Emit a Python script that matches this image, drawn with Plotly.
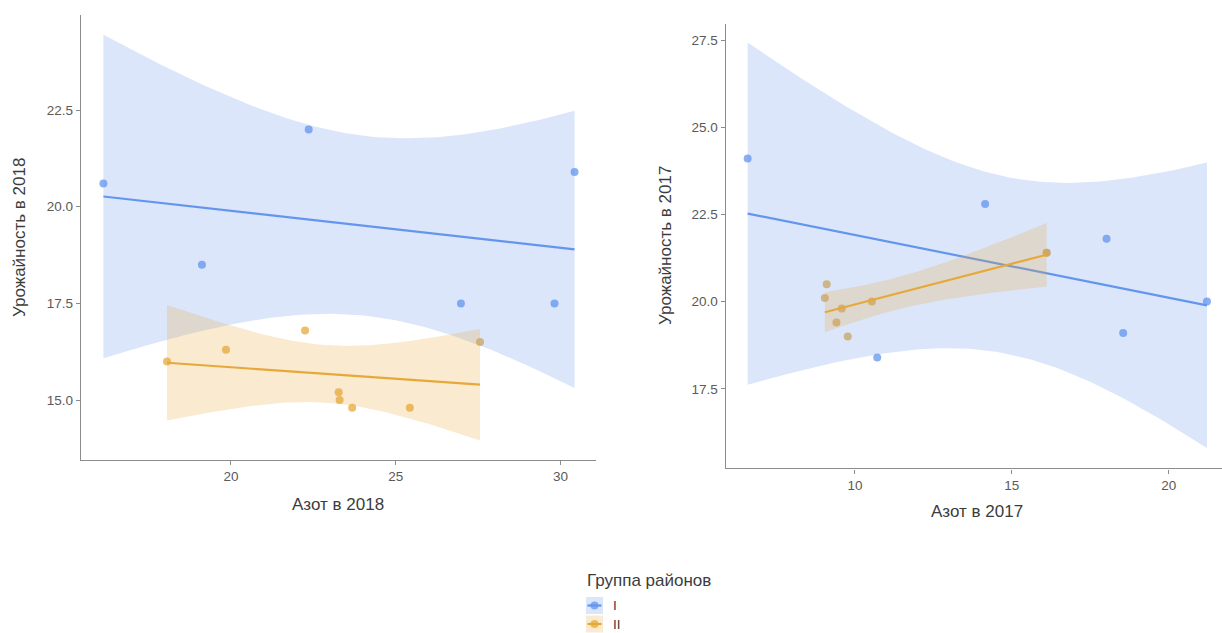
import numpy as np
import plotly.graph_objects as go

W, H = 1222, 633

# Азот и урожайность по группам районов, 2018
n18_I = [16.13, 19.12, 22.36, 26.98, 29.82, 30.43]
y18_I = [20.6, 18.5, 22.0, 17.5, 17.5, 20.9]
n18_II = [18.06, 19.85, 22.25, 23.27, 23.30, 23.68, 25.43, 27.56]
y18_II = [16.0, 16.3, 16.8, 15.2, 15.0, 14.8, 14.8, 16.5]

# то же, 2017 (в группе II два района с одинаковыми значениями)
n17_I = [6.58, 10.71, 14.15, 18.02, 18.55, 21.22]
y17_I = [24.1, 18.4, 22.8, 21.8, 19.1, 20.0]
n17_II = [9.04, 9.10, 9.41, 9.58, 9.77, 10.54, 16.11, 16.11]
y17_II = [20.1, 20.5, 19.4, 19.8, 19.0, 20.0, 21.4, 21.4]

groups = ["I", "II"]
legend_title = "Группа районов"

# tick labels
x18_ticks = [20, 25, 30]
y18_ticks = [15.0, 17.5, 20.0, 22.5]
x17_ticks = [10, 15, 20]
y17_ticks = [17.5, 20.0, 22.5, 25.0, 27.5]

LINE = {"I": "rgb(100,149,237)", "II": "rgb(231,168,58)"}
POINT = {"I": "rgba(100,149,237,0.75)", "II": "rgba(231,168,58,0.75)"}
BAND = {"I": "rgba(100,149,237,0.23)", "II": "rgba(231,168,58,0.24)"}

# 97.5% Student t quantiles by residual degrees of freedom
T975 = {4: 2.776445, 5: 2.570582, 6: 2.446912}


def lm_fit(x, y, n_grid=80):
    """OLS line with a 95% confidence band, evaluated on a grid over the x range."""
    x = np.asarray(x, float)
    y = np.asarray(y, float)
    n = len(x)
    mx, my = x.mean(), y.mean()
    sxx = ((x - mx) ** 2).sum()
    b1 = ((x - mx) * (y - my)).sum() / sxx
    b0 = my - b1 * mx
    s = np.sqrt(((y - (b0 + b1 * x)) ** 2).sum() / (n - 2))
    g = np.linspace(x.min(), x.max(), n_grid)
    fit = b0 + b1 * g
    half = T975[n - 2] * s * np.sqrt(1.0 / n + (g - mx) ** 2 / sxx)
    return g, fit, fit - half, fit + half


def px(xp):
    return xp / W


def py(yp):
    return 1 - yp / H


fig = go.Figure()

panels = [
    ("x", "y", {"I": (n18_I, y18_I), "II": (n18_II, y18_II)}),
    ("x2", "y2", {"I": (n17_I, y17_I), "II": (n17_II, y17_II)}),
]

for xa, ya, data in panels:
    # points first, smoothers drawn on top
    for grp in groups:
        xs, ys = data[grp]
        fig.add_trace(go.Scatter(
            x=xs, y=ys, xaxis=xa, yaxis=ya, mode="markers",
            marker=dict(size=8, color=POINT[grp], line=dict(width=0)),
            showlegend=False, hoverinfo="x+y", name=grp,
        ))
    for grp in groups:
        xs, ys = data[grp]
        g, fit, lo, hi = lm_fit(xs, ys)
        fig.add_trace(go.Scatter(
            x=np.concatenate([g, g[::-1]]), y=np.concatenate([hi, lo[::-1]]),
            xaxis=xa, yaxis=ya, mode="lines", fill="toself",
            fillcolor=BAND[grp], line=dict(width=0),
            showlegend=False, hoverinfo="skip",
        ))
        fig.add_trace(go.Scatter(
            x=g, y=fit, xaxis=xa, yaxis=ya, mode="lines",
            line=dict(color=LINE[grp], width=2.2),
            showlegend=False, hoverinfo="skip", name=grp,
        ))

axis_common = dict(
    showline=True, linecolor="#8c8c8c", linewidth=1.4,
    ticks="outside", ticklen=4, tickwidth=1.2, tickcolor="#8c8c8c",
    showgrid=False, zeroline=False,
    tickfont=dict(family="Liberation Sans, Arial, sans-serif", size=13.5, color="#5a5a5a"),
)

fig.update_layout(
    width=W, height=H, autosize=False,
    margin=dict(l=0, r=0, t=0, b=0),
    paper_bgcolor="white", plot_bgcolor="white",
    showlegend=False,
    xaxis=dict(axis_common, domain=[px(81), px(596)], range=[15.45, 31.08],
               tickvals=x18_ticks, anchor="y"),
    yaxis=dict(axis_common, domain=[py(460), py(15)], range=[13.45, 24.96],
               tickvals=y18_ticks, tickformat=".1f", anchor="x"),
    xaxis2=dict(axis_common, domain=[px(725.7), 1.0], range=[5.88, 21.70],
                tickvals=x17_ticks, anchor="y2"),
    yaxis2=dict(axis_common, domain=[py(468.3), py(24)], range=[15.22, 27.96],
                tickvals=y17_ticks, tickformat=".1f", anchor="x2"),
)

title_font = dict(family="Liberation Sans, Arial, sans-serif", size=17, color="#3c3c3c")
ann = [
    dict(text="Азот в 2018", x=px(338.5), y=py(504), xanchor="center", yanchor="middle"),
    dict(text="Азот в 2017", x=px(977), y=py(511), xanchor="center", yanchor="middle"),
    dict(text="Урожайность в 2018", x=px(19), y=py(238), textangle=-90,
         xanchor="center", yanchor="middle"),
    dict(text="Урожайность в 2017", x=px(665), y=py(246), textangle=-90,
         xanchor="center", yanchor="middle"),
    dict(text=legend_title, x=px(585), y=py(580.5), xanchor="left", yanchor="middle"),
]
for a in ann:
    fig.add_annotation(xref="paper", yref="paper", showarrow=False, font=title_font, **a)

# legend keys: band fill, line and point for each group
key_top = {"I": 597.0, "II": 615.5}
key_h, key_l, key_r = 17.0, 586.0, 603.0
key_cx = (key_l + key_r) / 2
for grp in groups:
    t = key_top[grp]
    cy = t + key_h / 2
    fig.add_shape(type="rect", xref="paper", yref="paper",
                  x0=px(key_l), x1=px(key_r), y0=py(t + key_h), y1=py(t),
                  fillcolor=BAND[grp], line=dict(width=0), layer="above")
    fig.add_shape(type="line", xref="paper", yref="paper",
                  x0=px(key_l + 1.5), x1=px(key_r - 1.5), y0=py(cy), y1=py(cy),
                  line=dict(color=LINE[grp], width=2.2), layer="above")
    fig.add_shape(type="circle", xref="paper", yref="paper",
                  x0=px(key_cx - 4), x1=px(key_cx + 4),
                  y0=py(cy + 4), y1=py(cy - 4),
                  fillcolor=POINT[grp], line=dict(width=0), layer="above")
    fig.add_annotation(xref="paper", yref="paper", showarrow=False,
                       text=grp, x=px(611), y=py(cy), xanchor="left", yanchor="middle",
                       font=dict(family="Liberation Sans, Arial, sans-serif", size=13.5,
                                 color="#3c3c3c"))

fig.write_html("out.html")
